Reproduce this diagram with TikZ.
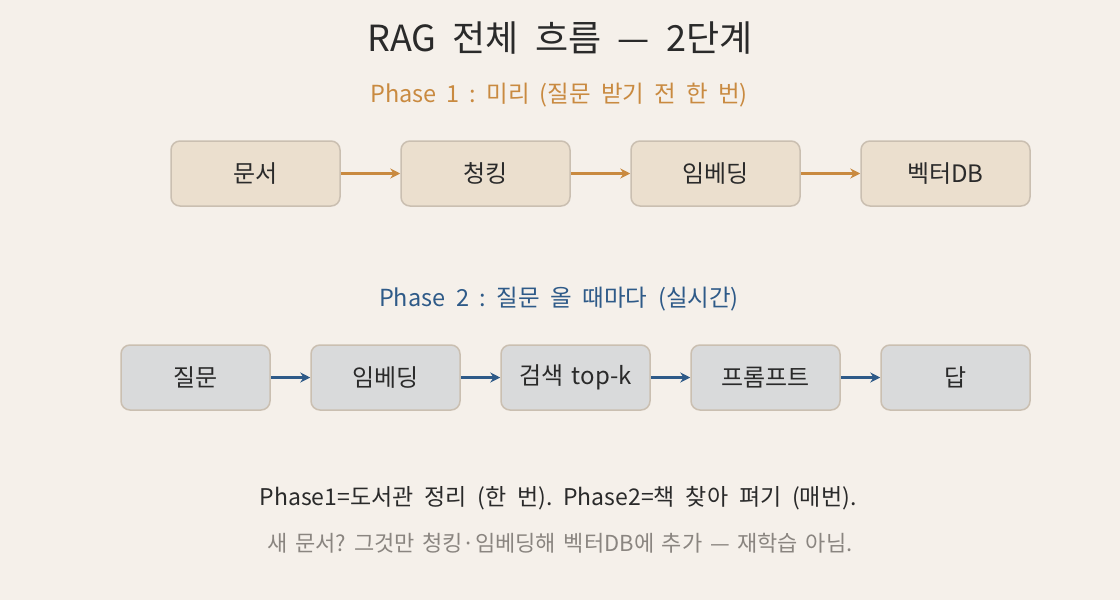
\documentclass[tikz,border=0pt]{standalone}
\usepackage{fontspec}
\setmainfont{Noto Sans CJK KR}
\newcommand\fsz[2]{\fontsize{#1}{#1}\selectfont\spaceskip=#2em\relax\xspaceskip=#2em\relax}
\usetikzlibrary{arrows.meta}
\definecolor{bg}{HTML}{F5F0EA}
\definecolor{pafill}{HTML}{EBDFCE}
\definecolor{pbfill}{HTML}{D9DADB}
\definecolor{bordc}{HTML}{CABFB1}
\definecolor{orangec}{HTML}{C98A40}
\definecolor{bluec}{HTML}{2E5A88}
\definecolor{darkc}{HTML}{2A2A2A}
\definecolor{grayc}{HTML}{8A8580}
\tikzset{
  boxa/.style={draw=bordc, line width=1.5pt, fill=pafill, rounded corners=9pt, minimum width=169pt, minimum height=65pt, inner sep=0pt, font={\fsz{24}{0.35}}, text=darkc},
  boxb/.style={boxa, fill=pbfill, minimum width=149pt},
  arra/.style={-{Stealth[length=10pt,width=10pt]}, line width=3pt, draw=orangec},
  arrb/.style={arra, draw=bluec},
}
\begin{document}
\begin{tikzpicture}[x=1pt,y=-1pt]
\fill[bg] (0,0) rectangle (1120,600);
\useasboundingbox (0,0) rectangle (1120,600);
\node[text=darkc, font={\fsz{36}{0.45}}] (title) at (560,38) {RAG 전체 흐름 — 2단계};
\node[text=orangec, font={\fsz{23.5}{0.43}}] (ph1) at (559,95) {Phase 1 : 미리 (질문 받기 전 한 번)};
\node[boxa] (a1) at (255.5,173.5) {문서};
\node[boxa] (a2) at (485.5,173.5) {청킹};
\node[boxa] (a3) at (715.5,173.5) {임베딩};
\node[boxa] (a4) at (945.5,173.5) {벡터DB};
\draw[arra] (a1) -- (a2);
\draw[arra] (a2) -- (a3);
\draw[arra] (a3) -- (a4);
\node[text=bluec, font={\fsz{23.5}{0.45}}] (ph2) at (559,299) {Phase 2 : 질문 올 때마다 (실시간)};
\node[boxb] (b1) at (195.5,377.5) {질문};
\node[boxb] (b2) at (385.5,377.5) {임베딩};
\node[boxb] (b3) at (575.5,377.5) {검색 top-k};
\node[boxb] (b4) at (765.5,377.5) {프롬프트};
\node[boxb] (b5) at (955.5,377.5) {답};
\draw[arrb] (b1) -- (b2);
\draw[arrb] (b2) -- (b3);
\draw[arrb] (b3) -- (b4);
\draw[arrb] (b4) -- (b5);
\node[text=darkc, font={\fsz{23}{0.47}}] (note1) at (558,498) {Phase1=도서관 정리 (한 번). Phase2=책 찾아 펴기 (매번).};
\node[text=grayc, font={\fsz{22}{0.35}}] (note2) at (560,543) {새 문서? 그것만 청킹·임베딩해 벡터DB에 추가 — 재학습 아님.};
\end{tikzpicture}
\end{document}
